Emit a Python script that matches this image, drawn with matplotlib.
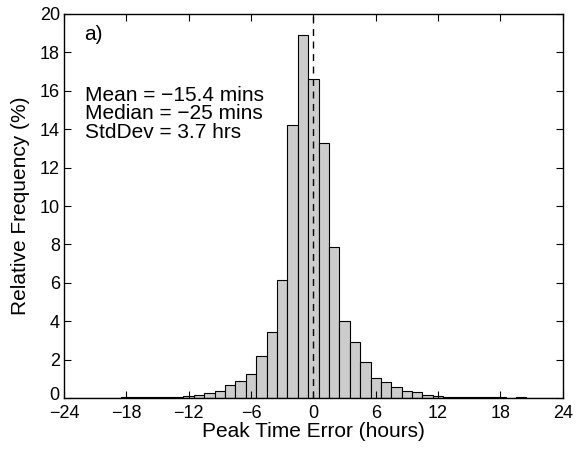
import matplotlib
matplotlib.use('Agg')
import matplotlib.pyplot as plt
import matplotlib.transforms as mtransforms
import numpy as np

plt.rcParams['font.family'] = ['Liberation Sans', 'DejaVu Sans']

# Histogram of peak time error, 1-hour bins centred on whole hours
bin_centres = list(range(-23, 24))
rel_freq = [0.01, 0.02, 0.02, 0.02, 0.02, 0.03, 0.03, 0.04, 0.05, 0.06,
            0.07, 0.10, 0.17, 0.25, 0.38, 0.70, 0.87, 1.24, 2.18, 3.42,
            6.15, 14.2, 18.9, 16.6, 13.3, 7.85, 4.03, 2.90, 1.86, 1.02,
            0.84, 0.55, 0.34, 0.29, 0.17, 0.12, 0.07, 0.07, 0.04, 0.04,
            0.03, 0.03, 0.02, 0.03, 0.02, 0.01, 0.01]

stats_lines = ['Mean = \u221215.4 mins', 'Median = \u221225 mins', 'StdDev = 3.7 hrs']
xticks = list(range(-24, 25, 6))
yticks = list(range(0, 21, 2))

fig = plt.figure(figsize=(5.76, 4.53), dpi=100)
ax = fig.add_axes([0.111, 0.1214, 0.866, 0.8477])

ax.bar(bin_centres, rel_freq, width=1.0, color='#cccccc', edgecolor='black', linewidth=0.8)
ax.axvline(0, color='black', linestyle=(0, (5, 4)), linewidth=1.0)

ax.set_xlim(-24, 24)
ax.set_ylim(0, 20)
ax.set_xticks(xticks)
ax.set_yticks(yticks)
ax.tick_params(direction='in', top=True, right=True, length=5, labelsize=13)
ax.tick_params(axis='x', pad=5)
ax.tick_params(axis='y', pad=3)
for s in ax.spines.values():
    s.set_linewidth(1.0)

# nudge the y "0" label up a little so it sits clear of the "-24" below it
lab0 = ax.get_yticklabels()[0]
lab0.set_transform(lab0.get_transform() + mtransforms.ScaledTranslation(0, 3 / 72, fig.dpi_scale_trans))

ax.set_xlabel('Peak Time Error (hours)', fontsize=15, labelpad=0)
ax.set_ylabel('Relative Frequency (%)', fontsize=15, labelpad=7)

ax.text(-22.1, 18.65, 'a)', fontsize=15, va='baseline', ha='left')
for i, line in enumerate(stats_lines):
    ax.text(-22.0, 15.47 - 0.96 * i, line, fontsize=15, va='baseline', ha='left')

fig.savefig('out.png', dpi=100)
